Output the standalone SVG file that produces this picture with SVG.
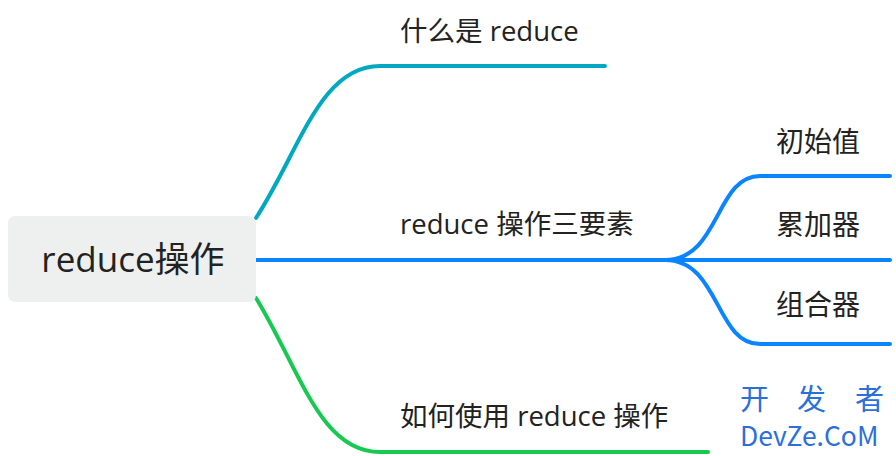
<svg xmlns="http://www.w3.org/2000/svg" width="896" height="456" viewBox="0 0 896 456">
<style>
.t{font-family:"Open Sans","Noto Sans CJK SC",sans-serif;fill:#222}
.l{fill:none;stroke-width:4;stroke-linecap:round}
.w{font-family:"Noto Sans CJK SC",sans-serif;fill:#2b6fd8}
</style>
<rect width="896" height="456" fill="#fff"/>
<g id="connectors">
<path class="l" stroke="#00a9bf" d="M256,218 C300,150 320,66 380,66 L605,66"/>
<path class="l" stroke="#0a84ff" d="M256,260 L665,260"/>
<path class="l" stroke="#16c950" d="M256,298 C300,370 320,452 380,452 L708,452"/>
<path class="l" stroke="#0a84ff" d="M665,260 C720,260 715,176 760,176 L890,176"/>
<path class="l" stroke="#0a84ff" d="M665,260 L890,260"/>
<path class="l" stroke="#0a84ff" d="M665,260 C720,260 715,344 760,344 L890,344"/>
</g>
<g id="root"><rect x="8" y="216" width="248" height="86" rx="7" fill="#eef0ef"/><text class="t" x="133" y="272" font-size="35" text-anchor="middle">reduce操作</text></g>
<g id="n1"><text class="t" x="400" y="41" font-size="27.5">什么是 reduce</text></g>
<g id="n2"><text class="t" x="400" y="234" font-size="27.5">reduce 操作三要素</text></g>
<g id="n3"><text class="t" x="400" y="426" font-size="27.5">如何使用 reduce 操作</text></g>
<g id="s1"><text class="t" x="776" y="152" font-size="28">初始值</text></g>
<g id="s2"><text class="t" x="776" y="235" font-size="28">累加器</text></g>
<g id="s3"><text class="t" x="776" y="315" font-size="28">组合器</text></g>
<g id="wm"><text class="w" x="740" y="410" font-size="29">开</text><text class="w" x="797" y="410" font-size="29">发</text><text class="w" x="855" y="410" font-size="29">者</text><text class="w" x="740" y="446" font-size="26.5">DevZe.CoM</text></g>
</svg>
